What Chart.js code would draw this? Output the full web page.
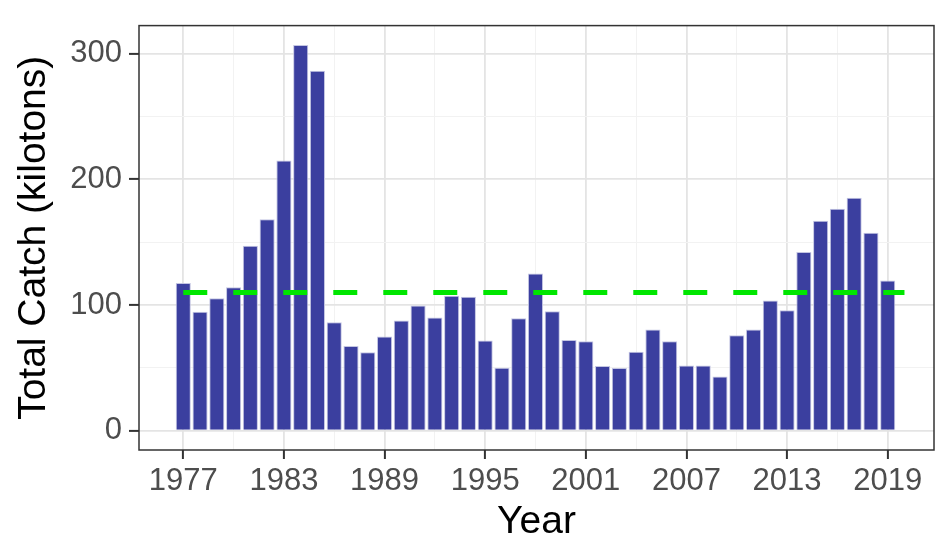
<!DOCTYPE html>
<html lang="en">
<head>
    <meta charset="UTF-8">
    <title>Total Catch by Year</title>
    <script src="https://cdn.jsdelivr.net/npm/chart.js"></script>
    <style>
        html, body { margin: 0; padding: 0; background: #fff; }
        #wrap { width: 935px; height: 544px; }
    </style>
</head>
<body>
    <div id="wrap"><canvas id="chartCatch" width="935" height="544"></canvas></div>

    <script>
        // Data
        const years = [1977, 1978, 1979, 1980, 1981, 1982, 1983, 1984, 1985, 1986,
            1987, 1988, 1989, 1990, 1991, 1992, 1993, 1994, 1995, 1996,
            1997, 1998, 1999, 2000, 2001, 2002, 2003, 2004, 2005, 2006,
            2007, 2008, 2009, 2010, 2011, 2012, 2013, 2014, 2015, 2016,
            2017, 2018, 2019];
        const totalCatch = [117.5, 94.6, 105.3, 114.2, 147.2, 168.3, 214.9, 306.9, 286.3, 86.2,
            67.4, 62.5, 75.0, 87.7, 99.7, 90.0, 107.3, 106.6, 71.7, 50.1,
            89.5, 125.1, 95.1, 72.2, 71.2, 51.4, 49.9, 62.8, 80.6, 71.2,
            51.9, 51.9, 43.2, 76.0, 80.6, 103.5, 95.9, 142.2, 167.0, 176.5,
            185.4, 157.4, 119.5];
        // dashed reference level and its extent
        const refYears = [1977, 2020];
        const refLevel = [110, 110];

        const xTickYears = [1977, 1983, 1989, 1995, 2001, 2007, 2013, 2019];
        const yTickValues = [0, 100, 200, 300];

        // minor breaks halfway between the major ones
        const xMinor = xTickYears.slice(1).map((v, i) => (v + xTickYears[i]) / 2);
        const yMinor = yTickValues.slice(1).map((v, i) => (v + yTickValues[i]) / 2);
        const xAll = xTickYears.concat(xMinor).sort((a, b) => a - b);
        const yAll = yTickValues.concat(yMinor).sort((a, b) => a - b);

        const isMajorX = c => !!c.tick && xTickYears.includes(c.tick.value);
        const isMajorY = c => !!c.tick && yTickValues.includes(c.tick.value);

        const panelBorder = {
            id: 'panelBorder',
            afterDraw(chart) {
                const { ctx, chartArea: a } = chart;
                ctx.save();
                ctx.strokeStyle = '#333333';
                ctx.lineWidth = 1.5;
                ctx.strokeRect(a.left, a.top, a.right - a.left, a.bottom - a.top);
                ctx.restore();
            }
        };

        const tickFont = { family: 'Liberation Sans, Arial, sans-serif', size: 31 };
        const titleFont = { family: 'Liberation Sans, Arial, sans-serif', size: 39, lineHeight: 1 };

        new Chart(document.getElementById('chartCatch'), {
            data: {
                datasets: [
                    {
                        type: 'line',
                        data: refYears.map((x, i) => ({ x: x, y: refLevel[i] })),
                        borderColor: '#00e600',
                        borderWidth: 5,
                        borderDash: [24, 26],
                        borderCapStyle: 'butt',
                        pointRadius: 0,
                        order: 0
                    },
                    {
                        type: 'bar',
                        data: years.map((x, i) => ({ x: x, y: totalCatch[i] })),
                        backgroundColor: '#3b3f9f',
                        borderColor: '#c3c5e2',
                        borderWidth: 1,
                        barPercentage: 0.9,
                        categoryPercentage: 1,
                        order: 1
                    }
                ]
            },
            options: {
                responsive: false,
                animation: false,
                events: [],
                layout: { padding: { top: 8, right: 1, left: 0, bottom: 0 } },
                plugins: { legend: { display: false }, tooltip: { enabled: false } },
                scales: {
                    x: {
                        type: 'linear',
                        offset: false,
                        min: 1974.36,
                        max: 2021.76,
                        afterBuildTicks: s => { s.ticks = xAll.map(v => ({ value: v })); },
                        afterFit: s => { s.height = 94; },
                        border: { display: false },
                        grid: {
                            offset: false,
                            color: c => isMajorX(c) ? '#e4e4e4' : '#f2f2f2',
                            lineWidth: c => isMajorX(c) ? 1.8 : 1,
                            tickColor: c => isMajorX(c) ? '#333333' : 'rgba(0,0,0,0)',
                            tickLength: 9,
                            tickWidth: 2
                        },
                        ticks: {
                            autoSkip: false,
                            maxRotation: 0,
                            padding: 4,
                            color: '#4d4d4d',
                            font: tickFont,
                            callback: v => xTickYears.includes(v) ? String(v) : ''
                        },
                        title: {
                            display: true,
                            text: 'Year',
                            color: '#000000',
                            font: titleFont,
                            padding: { top: 0, bottom: 2 }
                        }
                    },
                    y: {
                        type: 'linear',
                        min: -15.35,
                        max: 322.3,
                        afterBuildTicks: s => { s.ticks = yAll.map(v => ({ value: v })); },
                        afterFit: s => { s.width = 139; },
                        border: { display: false },
                        grid: {
                            color: c => isMajorY(c) ? '#e4e4e4' : '#f2f2f2',
                            lineWidth: c => isMajorY(c) ? 1.8 : 1,
                            tickColor: c => isMajorY(c) ? '#333333' : 'rgba(0,0,0,0)',
                            tickLength: 10,
                            tickWidth: 2
                        },
                        ticks: {
                            padding: 7,
                            color: '#4d4d4d',
                            font: tickFont,
                            callback: v => yTickValues.includes(v) ? String(v) : ''
                        },
                        title: {
                            display: true,
                            text: 'Total Catch (kilotons)',
                            color: '#000000',
                            font: titleFont,
                            padding: { top: 15, bottom: 0 }
                        }
                    }
                }
            },
            plugins: [panelBorder]
        });
    </script>
</body>
</html>
